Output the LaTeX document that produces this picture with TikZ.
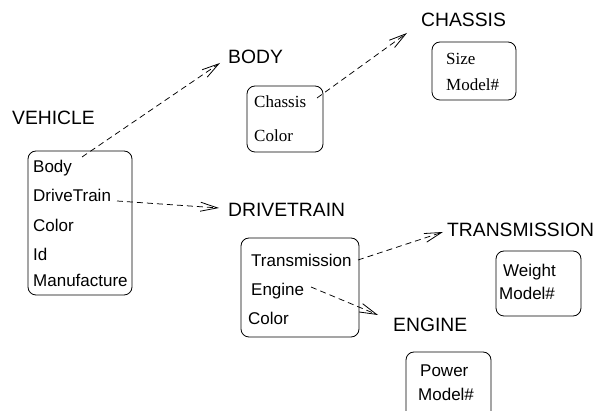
\documentclass[tikz,border=0pt]{standalone}
\usepackage{fontspec}
\setmainfont{Liberation Sans}
\newfontfamily\serifface{Liberation Serif}
\usetikzlibrary{arrows.meta}
\begin{document}
\begin{tikzpicture}[x=1pt,y=-1pt,
  classbox/.style={draw,rounded corners=8pt,line width=0.8pt},
  title/.style={anchor=base west,inner sep=0pt,font=\fontsize{19.3}{21}\selectfont},
  item/.style={anchor=base west,inner sep=0pt,font=\fontsize{17}{19}\selectfont},
  sitem/.style={anchor=base west,inner sep=0pt,font=\serifface\fontsize{17}{19}\selectfont},
  link/.style={dashed,dash pattern=on 6pt off 4pt,line width=0.75pt,-{Straight Barb[length=17pt,width=9pt,line width=0.8pt]}}]
\useasboundingbox (0,0) rectangle (595,411);
\begin{scope}
\clip (0,0) rectangle (595,411);
% boxes
\draw[classbox] (28,151) rectangle (132,295);
\draw[classbox] (247,86) rectangle (323,152);
\draw[classbox] (432,42) rectangle (516,100);
\draw[classbox] (241,238) rectangle (359,337);
\draw[classbox] (496,251) rectangle (581,316);
\draw[classbox] (406,352) rectangle (491,425);
\end{scope}
% titles
\node[title] (tveh) at (12,125) {VEHICLE};
\node[title] (tbody) at (228,64) {BODY};
\node[title] (tchas) at (421,27) {CHASSIS};
\node[title] (tdrive) at (228,217) {DRIVETRAIN};
\node[title] (ttrans) at (447,237) {TRANSMISSION};
\node[title] (teng) at (393,332) {ENGINE};
% vehicle items
\node[item] (vbody) at (33,173) {Body};
\node[item] (vdrive) at (33,202) {DriveTrain};
\node[item] (vcolor) at (33,232) {Color};
\node[item] (vid) at (33,261) {Id};
\node[item] (vman) at (33,287) {Manufacture};
% body items
\node[sitem] (bchas) at (254,108) {Chassis};
\node[sitem] (bcolor) at (254,142) {Color};
% chassis items
\node[sitem] (csize) at (446,65) {Size};
\node[sitem] (cmodel) at (446,91) {Model\#};
% drivetrain items
\node[item] (dtrans) at (251,267) {Transmission};
\node[item] (deng) at (251,296) {Engine};
\node[item] (dcolor) at (248,325) {Color};
% transmission items
\node[item] (tweight) at (503,277) {Weight};
\node[item] (tmodel) at (499,300) {Model\#};
% engine items
\node[item] (epower) at (420,377) {Power};
\node[item] (emodel) at (418,401) {Model\#};
% connector end points
\coordinate (s1) at (82,157);
\coordinate (e1) at (220,63);
\coordinate (s2) at (117,201);
\coordinate (e2) at (219,208);
\coordinate (s3) at (317,98);
\coordinate (e3) at (407,33);
\coordinate (s4) at (358,260);
\coordinate (e4) at (443,232);
\coordinate (s5) at (311,287);
\coordinate (e5) at (378,315);
\draw[link] (s1) -- (e1);
\draw[link] (s2) -- (e2);
\draw[link] (s3) -- (e3);
\draw[link] (s4) -- (e4);
\draw[link] (s5) -- (e5);
\end{tikzpicture}
\end{document}
